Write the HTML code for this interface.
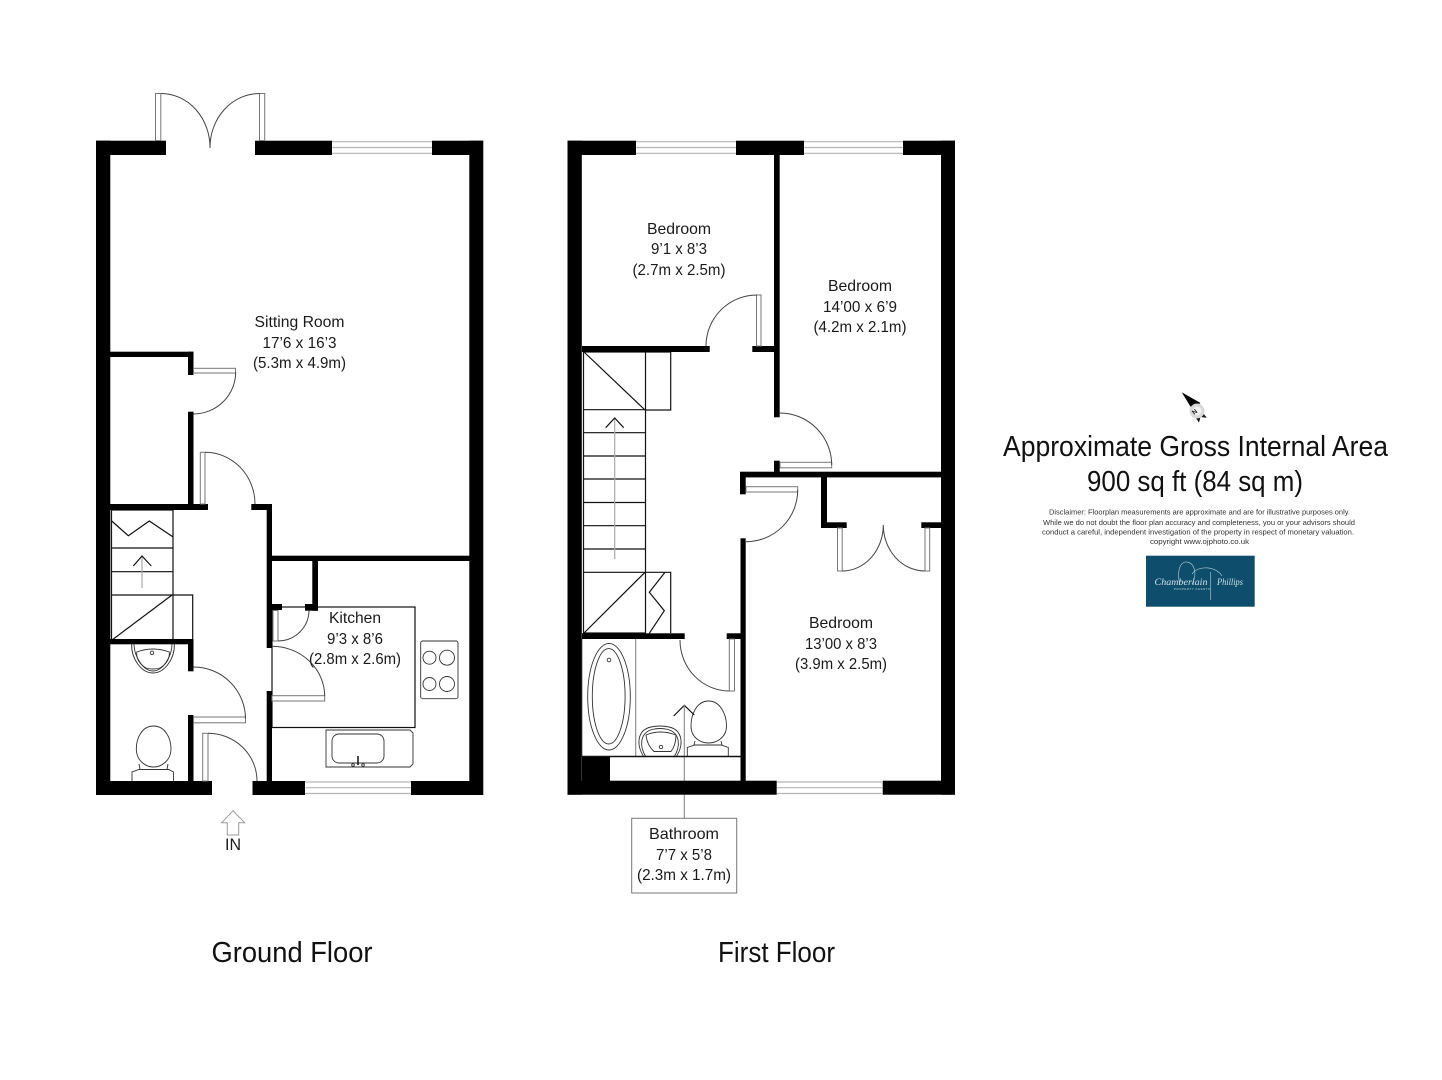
<!DOCTYPE html>
<html><head><meta charset="utf-8"><title>Floor plan</title>
<style>html,body{margin:0;padding:0;background:#fff}svg{display:block}
text{font-family:"Liberation Sans",sans-serif;fill:#1a1a1a;text-anchor:middle}
.r{font-size:16px}.h{font-size:29px;fill:#111}.d{font-size:7.6px;fill:#333}
.a{fill:none;stroke:#444;stroke-width:1}.t{fill:none;stroke:#111;stroke-width:1.2}
.g{fill:none;stroke:#999;stroke-width:1.1}.f{fill:none;stroke:#333;stroke-width:.9}
.l{fill:#fff;stroke:#777;stroke-width:1}</style></head><body>
<svg width="1442" height="1080" viewBox="0 0 1442 1080" xmlns="http://www.w3.org/2000/svg">
<rect width="1442" height="1080" fill="#fff"/>

<!-- GROUND FLOOR fixtures -->
<g>
<rect x="272" y="607" width="143" height="120.500" class="t"/>
<rect x="111.500" y="510" width="61.500" height="130" class="t"/>
<path d="M111 548H173M111 571.700H173M111 595H192.700V640M112 640L172 595M111.700 521L128.300 535.700L149.300 521L172.700 536.700" class="t"/>
<path d="M142 556V588" stroke="#aaa" stroke-width="1.200" fill="none"/>
<path d="M133.300 566L142 556L151.300 566" class="t"/>
<!-- hob -->
<rect x="420.700" y="641" width="37.300" height="57.700" rx="2" class="f"/>
<circle cx="429.500" cy="657.700" r="6.500" class="f"/><circle cx="447" cy="657.700" r="7.500" class="f"/>
<circle cx="429.500" cy="684" r="6.500" class="f"/><circle cx="447" cy="684" r="7.500" class="f"/>
<!-- kitchen sink -->
<path d="M326 730H410L413 733V764L410 767H326Z" class="f"/>
<rect x="332" y="734" width="52" height="29" rx="7" class="f"/>
<path d="M358 756V765" stroke="#111" stroke-width="1.500"/>
<circle cx="353" cy="765" r="1.300" class="f"/><circle cx="363" cy="765" r="1.300" class="f"/>
<!-- WC basin -->
<path d="M131.700 644C131 658 141 673 153 673C165 673 175 658 174.300 644" class="f"/>
<path d="M134 644C134 656 143 671 153 671C163 671 172 656 172 644" class="f"/>
<path d="M136.700 652Q153 646 169.300 652Q170 662 160 668Q153 670 146 668Q136 662 136.700 652Z" class="f"/>
<circle cx="152" cy="652.800" r="1.700" class="f"/>
<!-- WC -->
<path d="M153.500 726C165 726 171 738 171 749C171 761 161 767 153.500 767C146 767 136.300 761 136.300 749C136.300 738 142 726 153.500 726Z" class="f"/>
<path d="M132 781V772L139 769.500H168.700L173.500 772V781M139 764L140 769.500M168 764L167 769.500" class="f"/>
</g>

<!-- FIRST FLOOR fixtures -->
<g>
<rect x="583.500" y="352" width="62" height="281" class="t"/>
<path d="M584 409.700H645M584 432.700H645M584 456H645M584 479H645M584 502.500H645M584 525.700H645M584 549H645M584 572.300H645" class="t"/>
<path d="M645 352H670.700V410H645M645 572.300H670.700V633M584 352L645 410M584 633L645 572.300M665 572.300L649.300 592.300L664.300 610.700L649.300 633.300" class="t"/>
<path d="M614.700 418V559" stroke="#aaa" stroke-width="1.200" fill="none"/>
<path d="M605.700 427.700L614.700 418L623.700 427.700" class="t"/>
<!-- bathroom -->
<path d="M582 639V757M635.700 639V757" stroke="#888" stroke-width="1.100" fill="none"/>
<ellipse cx="609" cy="696.700" rx="21.300" ry="53.300" class="f"/>
<ellipse cx="608.700" cy="696.300" rx="16.400" ry="47.700" class="f"/>
<circle cx="609" cy="660" r="1.800" class="f"/>
<path d="M644 757C636 745 637 730 651 727Q660 725 669 727C683 730 684 745 676 757" class="f"/>
<path d="M646 757C639 746 640 733 652 729.500Q660 727.500 668 729.500C680 733 681 746 674 757" class="f"/>
<path d="M646 735Q660 729 676 735Q676 745 671 751.500H654Q647 745 646 735Z" class="f"/>
<circle cx="661" cy="747" r="1.700" class="f"/>
<path d="M708.500 701C720 701 726.500 714 726.500 726C726.500 738 716 743 708.500 743C701 743 691 738 691 726C691 714 697 701 708.500 701Z" fill="#fff" stroke="#333" stroke-width=".9"/>
<path d="M687.300 757V747.500L695 745H721L728.300 747.500V757M695 741L694 745M721 741L722 745" class="f"/>
<path d="M673.700 716L684.300 705.300L694.300 715" class="t"/>
<path d="M684.300 705V818" stroke="#888" stroke-width="1.100" fill="none"/>
<path d="M582 756.500H741" stroke="#111" stroke-width="1.500"/>
<rect x="631.700" y="818.300" width="105" height="74.700" fill="#fff" stroke="#777" stroke-width="1"/>
</g>

<!-- WALLS -->
<g fill="#000">
<rect x="96" y="140.700" width="14.300" height="654.300"/>
<rect x="469.300" y="140.700" width="14" height="654.300"/>
<rect x="96" y="140.700" width="70" height="14.300"/>
<rect x="255" y="140.700" width="77" height="14.300"/>
<rect x="432" y="140.700" width="51" height="14.300"/>
<rect x="96" y="781" width="116" height="14"/>
<rect x="252.500" y="781" width="52.500" height="14"/>
<rect x="411" y="781" width="72" height="14"/>
<rect x="110" y="351.700" width="83.500" height="5.300"/>
<rect x="188" y="351.700" width="5.500" height="23.300"/>
<rect x="188" y="411.700" width="5.500" height="93"/>
<rect x="110" y="504" width="98" height="6"/>
<rect x="251.300" y="504" width="20.700" height="6"/>
<rect x="266.700" y="504" width="5.300" height="144"/>
<rect x="266.700" y="691" width="5.300" height="90"/>
<rect x="267" y="555.700" width="203" height="5.300"/>
<rect x="312.300" y="556" width="5.700" height="54.700"/>
<rect x="305" y="604" width="13" height="6.700"/>
<rect x="272" y="604" width="10" height="6"/>
<rect x="110" y="639" width="83.500" height="5.300"/>
<rect x="188" y="639" width="5.500" height="32.300"/>
<rect x="188" y="715" width="5.500" height="66"/>
<rect x="567.500" y="140.700" width="14.300" height="654"/>
<rect x="941" y="140.700" width="14" height="654"/>
<rect x="567.500" y="140.700" width="68.500" height="14.300"/>
<rect x="736" y="140.700" width="68" height="14.300"/>
<rect x="903" y="140.700" width="52" height="14.300"/>
<rect x="567.500" y="780.700" width="209.200" height="14"/>
<rect x="882.700" y="780.700" width="72.300" height="14"/>
<rect x="582" y="757" width="28" height="24"/>
<rect x="774" y="155" width="5.700" height="262.300"/>
<rect x="582" y="346" width="127.700" height="6"/>
<rect x="752.300" y="346" width="22" height="6"/>
<rect x="774" y="460.700" width="5.700" height="12"/>
<rect x="740" y="471.700" width="201" height="5.700"/>
<rect x="740" y="472" width="5.700" height="22.300"/>
<rect x="740.500" y="538.300" width="5.200" height="242.700"/>
<rect x="726.700" y="633.300" width="14" height="5.700"/>
<rect x="582" y="633.300" width="102.700" height="5.700"/>
<rect x="821" y="477" width="6" height="51"/>
<rect x="821" y="522.300" width="25.700" height="5.700"/>
<rect x="921.300" y="522.300" width="20" height="5.700"/>
</g>

<!-- WINDOWS -->
<g fill="#fff" stroke="#b5b5b5" stroke-width="1.200">
<path d="M332 141.700H432M332 147.500H432M332 153.300H432"/>
<path d="M636 141.700H736M636 147.500H736M636 153.300H736"/>
<path d="M804 141.700H903M804 147.500H903M804 153.300H903"/>
<path d="M305 782H411M305 787.700H411M305 793.500H411"/>
<path d="M777 782H883M777 787.700H883M777 793.500H883"/>
</g>

<!-- DOORS -->
<g>
<rect x="155.500" y="93.500" width="5.300" height="47" class="l"/>
<rect x="259.500" y="93.500" width="5.200" height="47" class="l"/>
<path d="M161 93.500A49 54 0 0 1 210 148M259.500 93.500A49.500 54 0 0 0 210 148" class="a"/>
<rect x="193.500" y="368.300" width="42" height="4.700" class="l"/>
<path d="M235.700 372A42.500 42 0 0 1 193.500 414" class="a"/>
<rect x="200.300" y="452.300" width="4.700" height="51.700" class="l"/>
<path d="M205 452.300A50 51.700 0 0 1 255 504" class="a"/>
<rect x="273" y="610.500" width="5" height="30.500" class="l"/>
<path d="M278 641A31 31 0 0 0 309 610.500" class="a"/>
<rect x="272" y="695.700" width="52.700" height="5.300" class="l"/>
<path d="M272 646.300A52.700 50 0 0 1 324.700 696" class="a"/>
<rect x="193.500" y="717" width="52" height="5.800" class="l"/>
<path d="M193.500 667A52 52 0 0 1 245.500 719" class="a"/>
<rect x="202.700" y="733.300" width="5.300" height="47.700" class="l"/>
<path d="M208 733.300A49 47.700 0 0 1 257 781" class="a"/>
<rect x="756.500" y="295" width="4.500" height="51" class="l"/>
<path d="M757 295A51 51 0 0 0 706 346" class="a"/>
<rect x="780" y="462.300" width="51.700" height="5.500" class="l"/>
<path d="M779.700 413A52 52 0 0 1 831.700 465" class="a"/>
<rect x="746" y="486.700" width="51.700" height="5.300" class="l"/>
<path d="M797.700 490A51.700 51.700 0 0 1 746 541.700" class="a"/>
<rect x="837.500" y="528" width="4.700" height="43" class="l"/>
<rect x="925" y="528" width="4.700" height="43" class="l"/>
<path d="M842 571A41.300 46 0 0 0 883.300 525M925 571A41.700 46 0 0 1 883.300 525" class="a"/>
<rect x="729.300" y="639" width="5.200" height="52" class="l"/>
<path d="M680 640A49.500 51 0 0 0 729.500 691" class="a"/>
</g>

<!-- IN arrow -->
<path d="M233 810.700L221.700 822.700H227.300V835H238.700V822.700H244.700Z" fill="#fff" stroke="#999" stroke-width="1"/>
<text x="233" y="850" font-size="17" textLength="16" lengthAdjust="spacingAndGlyphs">IN</text>

<!-- room labels -->
<text class="r" x="299.500" y="327" textLength="90" lengthAdjust="spacingAndGlyphs">Sitting Room</text>
<text class="r" x="299.500" y="348" textLength="74" lengthAdjust="spacingAndGlyphs">17’6 x 16’3</text>
<text class="r" x="299.500" y="368" textLength="93" lengthAdjust="spacingAndGlyphs">(5.3m x 4.9m)</text>
<text class="r" x="355" y="623" textLength="52" lengthAdjust="spacingAndGlyphs">Kitchen</text>
<text class="r" x="355" y="644" textLength="56" lengthAdjust="spacingAndGlyphs">9’3 x 8’6</text>
<text class="r" x="355" y="664" textLength="92" lengthAdjust="spacingAndGlyphs">(2.8m x 2.6m)</text>
<text class="r" x="679" y="234" textLength="64" lengthAdjust="spacingAndGlyphs">Bedroom</text>
<text class="r" x="679" y="254" textLength="56" lengthAdjust="spacingAndGlyphs">9’1 x 8’3</text>
<text class="r" x="679" y="275" textLength="93" lengthAdjust="spacingAndGlyphs">(2.7m x 2.5m)</text>
<text class="r" x="860" y="291" textLength="64" lengthAdjust="spacingAndGlyphs">Bedroom</text>
<text class="r" x="860" y="312" textLength="74" lengthAdjust="spacingAndGlyphs">14’00 x 6’9</text>
<text class="r" x="860" y="332" textLength="93" lengthAdjust="spacingAndGlyphs">(4.2m x 2.1m)</text>
<text class="r" x="841" y="628" textLength="64" lengthAdjust="spacingAndGlyphs">Bedroom</text>
<text class="r" x="841" y="649" textLength="72" lengthAdjust="spacingAndGlyphs">13’00 x 8’3</text>
<text class="r" x="841" y="669" textLength="92" lengthAdjust="spacingAndGlyphs">(3.9m x 2.5m)</text>
<text class="r" x="684" y="839" textLength="70" lengthAdjust="spacingAndGlyphs">Bathroom</text>
<text class="r" x="684" y="860" textLength="56" lengthAdjust="spacingAndGlyphs">7’7 x 5’8</text>
<text class="r" x="684" y="880" textLength="94" lengthAdjust="spacingAndGlyphs">(2.3m x 1.7m)</text>

<text class="h" x="292" y="962" textLength="161" lengthAdjust="spacingAndGlyphs">Ground Floor</text>
<text class="h" x="776.500" y="962" textLength="117" lengthAdjust="spacingAndGlyphs">First Floor</text>

<!-- compass -->
<path d="M1181.700 392.300L1192 409L1200.500 403Z" fill="#000"/>
<path d="M1193 414L1199 422.500L1200.500 417L1206.700 417.700L1200 409Z" fill="#111"/>
<circle cx="1197" cy="411" r="7.500" fill="#d8d8d8"/>
<circle cx="1197" cy="411" r="4.500" fill="#f2f2f2"/>
<text x="0" y="0" font-size="6.500" font-weight="bold" transform="translate(1196 413.500) rotate(-40)">N</text>

<!-- area -->
<text class="h" x="1195.500" y="456" textLength="385" lengthAdjust="spacingAndGlyphs">Approximate Gross Internal Area</text>
<text class="h" x="1195" y="491" textLength="216" lengthAdjust="spacingAndGlyphs">900 sq ft (84 sq m)</text>
<text class="d" x="1199.500" y="514.500" textLength="301" lengthAdjust="spacingAndGlyphs">Disclaimer: Floorplan measurements are approximate and are for illustrative purposes only.</text>
<text class="d" x="1199" y="525" textLength="312" lengthAdjust="spacingAndGlyphs">While we do not doubt the floor plan accuracy and completeness, you or your advisors should</text>
<text class="d" x="1198" y="534.500" textLength="312" lengthAdjust="spacingAndGlyphs">conduct a careful, independent investigation of the property in respect of monetary valuation.</text>
<text class="d" x="1199.500" y="544" textLength="99" lengthAdjust="spacingAndGlyphs">copyright www.ojphoto.co.uk</text>

<!-- logo -->
<rect x="1146" y="555.700" width="108.700" height="51" fill="#0e4d6b"/>
<g fill="none" stroke="#9fc4d2" stroke-width=".7">
<path d="M1180 585C1176 570 1181 561 1187 562C1194 563 1198 573 1192 584M1192 574C1198 565 1216 566 1222 576M1210.700 572V600"/>
</g>
<text x="1181" y="585" font-size="9" style="font-family:'Liberation Serif',serif;font-style:italic;fill:#cfe2ea" textLength="53" lengthAdjust="spacingAndGlyphs">Chamberlain</text>
<text x="1230" y="585" font-size="9" style="font-family:'Liberation Serif',serif;font-style:italic;fill:#cfe2ea" textLength="26" lengthAdjust="spacingAndGlyphs">Phillips</text>
<text x="1192" y="590" font-size="3" style="fill:#b7d2dc" textLength="36" lengthAdjust="spacing">PROPERTY AGENTS</text>
</svg>
</body></html>
